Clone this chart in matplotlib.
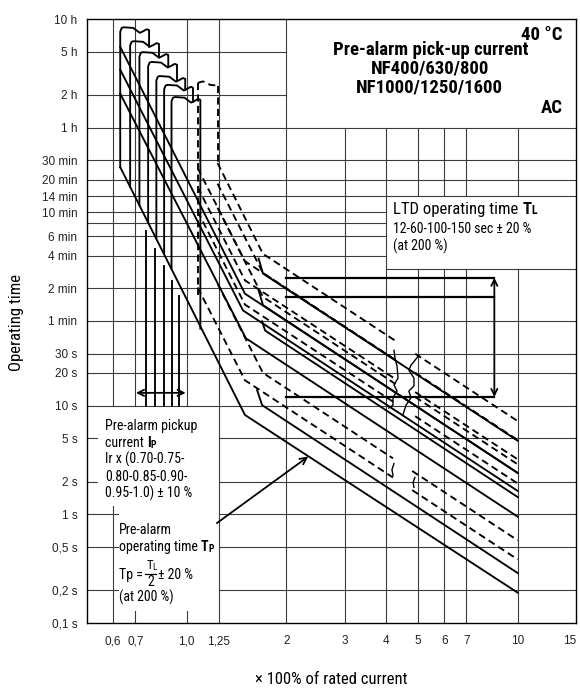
import numpy as np
import matplotlib
matplotlib.use("Agg")
import matplotlib.pyplot as plt
from matplotlib import font_manager as fm

# x: multiple of rated current, t: operating time in seconds
x_ticks = [0.6, 0.7, 1.0, 1.25, 2, 3, 4, 5, 6, 7, 10, 15]
x_tick_labels = ["0,6", "0,7", "1,0", "1,25", "2", "3", "4", "5", "6", "7", "10", "15"]
y_ticks = [36000, 18000, 7200, 3600, 1800, 1200, 840, 600, 360, 240, 120, 60,
           30, 20, 10, 5, 2, 1, 0.5, 0.2, 0.1]
y_tick_labels = ["10 h", "5 h", "2 h", "1 h", "30 min", "20 min", "14 min", "10 min",
                 "6 min", "4 min", "2 min", "1 min", "30 s", "20 s", "10 s", "5 s",
                 "2 s", "1 s", "0,5 s", "0,2 s", "0,1 s"]

# pre-alarm pick-up flags (Ip = Ir x 0.70 ... 1.0, +-10 %)
ip_set = [0.70, 0.75, 0.80, 0.85, 0.90, 0.95, 1.00]
flag_top = [29800, 22200, 17600, 14300, 10600, 8800, 6800]
flag_left_end = [1560, 1030, 700, 487, 345, 250, 183]
flag_right_end = [20000, 16000, 13000, 9800, 8000, 6200, 51]
ip_lines = [0.755, 0.805, 0.855, 0.90, 0.95]
ip_lines_top = [405, 277, 194, 141, 101]

# pre-alarm operating time Tp (solid)
tp_min_150 = ([0.63, 1.50, 10], [19950, 107, 2.4])
tp_min_100 = ([0.63, 1.48, 10], [12300, 75, 1.64])
tp_min_60 = ([0.63, 1.51, 10], [7400, 41.6, 0.95])
tp_min_12 = ([0.63, 1.50, 10], [1560, 8.2, 0.19])
tp_max_150 = ([1.65, 1.70, 10], [225, 164, 4.75])
tp_max_100 = ([1.65, 1.70, 10], [115, 84, 2.4])
tp_max_60 = ([1.69, 1.726, 10], [59.6, 49, 1.44])
tp_max_12 = ([1.632, 1.69, 10], [13.9, 10.1, 0.288])

# LTD operating time TL (dashed)
ltd_min_150 = ([1.08, 1.5, 10], [1530, 213, 4.8])
ltd_min_100 = ([1.08, 1.5, 10], [1020, 142, 3.2])
ltd_min_60 = ([1.08, 1.5, 10], [612, 85, 1.92])
ltd_min_12 = ([1.08, 1.5, 10], [122, 17.1, 0.384])
ltd_max_150 = ([1.24, 1.70, 10], [1700, 249, 7.2])
ltd_max_100 = ([1.24, 1.70, 10], [1100, 166, 4.8])
ltd_max_60 = ([1.24, 1.70, 10], [660, 100, 2.88])
ltd_max_12 = ([1.24, 1.70, 10], [132, 20, 0.576])
ltd_pick_lo = ([1.08, 1.08], [9300, 103])
ltd_pick_hi = ([1.24, 1.24], [8800, 1700])
ltd_pick_top = ([1.08, 1.12, 1.18, 1.24], [9300, 9600, 8900, 8800])
# interrupted parts of the LTD curves (x from, x to)
gap_upper = (4.30, 4.90)
gap_lower = (4.20, 4.80)

# LTD setting marks at 200 %
tl_marks = [150, 100, 12]

# break marks
brk1 = ([4.23, 4.26, 4.32, 4.35, 4.23, 4.32, 4.20, 4.20, 4.08],
        [32.3, 27.3, 23.1, 17.9, 15.5, 13.6, 11.8, 10.1, 9.5])
brk2 = ([5.03, 4.76, 4.69, 4.86, 4.86, 4.69, 4.76, 4.60, 4.50],
        [29.0, 23.5, 21.2, 17.9, 15.2, 13.6, 11.8, 10.1, 8.2])
brk3 = ([4.23, 4.17, 4.20], [2.93, 2.58, 2.27])
brk4 = ([4.89, 4.83, 4.86], [2.18, 1.96, 1.77])


def pick_font(*names):
    for n in names:
        try:
            fm.findfont(fm.FontProperties(family=n), fallback_to_default=False)
            return n
        except ValueError:
            continue
    return "DejaVu Sans"


COND = pick_font("Liberation Sans Narrow", "Roboto Condensed", "Noto Sans Condensed",
                 "Open Sans Condensed", "Liberation Sans")
SANS = pick_font("Liberation Sans", "Arial", "DejaVu Sans")

fig = plt.figure(figsize=(5.8, 6.91), dpi=100)
ax = fig.add_axes([87 / 580, 1 - 623 / 691, 489 / 580, 604 / 691])
ax.set_xscale("log")
ax.set_yscale("log")
XL, XR, TB, TT = 0.5, 15, 0.1, 36000
ax.set_xlim(XL, XR)
ax.set_ylim(TB, TT)

GC, GW = "#3c3c3c", 0.8
h_grid = {18000: [(XL, 2)], 7200: [(XL, 2)], 3600: [(XL, XR)], 1800: [(XL, XR)],
          1200: [(XL, XR)], 840: [(XL, XR)], 600: [(XL, 4)], 480: [(XL, 4)],
          360: [(XL, 4)], 240: [(XL, 4)], 182: [(4, XR)], 120: [(XL, 2)],
          60: [(XL, XR)], 30: [(XL, XR)], 20: [(XL, XR)], 10: [(XL, XR)],
          5: [(XL, 0.535), (1.25, XR)], 2: [(XL, 0.535), (1.25, XR)],
          1: [(XL, 0.62), (1.25, XR)], 0.5: [(XL, 0.62), (1.25, XR)],
          0.2: [(XL, 0.62), (1.25, XR)]}
for t, segs in h_grid.items():
    for a, b in segs:
        ax.plot([a, b], [t, t], color=GC, lw=GW, zorder=1)
v_grid = {0.6: [(10, TT), (TB, 1.2)], 0.7: [(10, TT), (TB, 0.13)],
          1.0: [(10, TT), (TB, 0.13)], 1.25: [(TB, TT)], 2: [(TB, TT)],
          3: [(TB, 3600)], 4: [(TB, 3600)], 5: [(TB, 182), (840, 3600)],
          6: [(TB, 182), (840, 3600)], 7: [(TB, 182), (840, 3600)],
          10: [(TB, 182), (840, 3600)]}
for x, segs in v_grid.items():
    for a, b in segs:
        ax.plot([x, x], [a, b], color=GC, lw=GW, zorder=1)

LW = 1.35
K = "black"
DASH = (3.8, 2.3)
# flags
wave = [(0.0, -0.035), (0.05, 0.0), (0.12, 0.006), (0.45, 0.0), (0.55, -0.02),
        (0.68, -0.045), (0.8, -0.03), (0.92, -0.012), (1.0, -0.02)]
for ip, top, lb, rb in zip(ip_set, flag_top, flag_left_end, flag_right_end):
    left, right = 0.9 * ip, 1.1 * ip
    xs = [left] + [left * (right / left) ** f for f, _ in wave] + [right]
    ts = [lb] + [top * 10 ** o for _, o in wave] + [rb]
    ax.plot(xs, ts, color=K, lw=LW, zorder=3, solid_joinstyle="round")
for x, top in zip(ip_lines, ip_lines_top):
    ax.plot([x, x], [top, 10], color=K, lw=LW, zorder=3)

for cx, ct in [tp_min_150, tp_min_100, tp_min_60, tp_min_12,
               tp_max_150, tp_max_100, tp_max_60, tp_max_12]:
    ax.plot(cx, ct, color=K, lw=LW, zorder=3)


def dashed_with_gap(cx, ct, gap):
    lx, lt = np.log10(cx), np.log10(ct)
    g0, g1 = np.log10(gap)
    t0, t1 = np.interp([g0, g1], lx, lt)
    head = [(x, t) for x, t in zip(lx, lt) if x < g0] + [(g0, t0)]
    tail = [(g1, t1)] + [(x, t) for x, t in zip(lx, lt) if x > g1]
    for part in (head, tail):
        px, pt = zip(*part)
        ax.plot(10 ** np.array(px), 10 ** np.array(pt), color=K, lw=LW, zorder=3, dashes=DASH)


for cx, ct in [ltd_min_150, ltd_min_100, ltd_min_60, ltd_max_150, ltd_max_100, ltd_max_60]:
    dashed_with_gap(cx, ct, gap_upper)
for cx, ct in [ltd_min_12, ltd_max_12]:
    dashed_with_gap(cx, ct, gap_lower)
for cx, ct in [ltd_pick_lo, ltd_pick_hi, ltd_pick_top]:
    ax.plot(cx, ct, color=K, lw=LW, zorder=3, dashes=DASH)
for bx, bt in [brk1, brk2, brk3, brk4]:
    ax.plot(bx, bt, color=K, lw=1.0, zorder=3)

# LTD marks and arrows
for t in tl_marks:
    ax.plot([2, 8.5], [t, t], color=K, lw=1.6, zorder=3)
ap = dict(arrowstyle="<->", lw=1.3, color=K, mutation_scale=11, shrinkA=0, shrinkB=0)
ax.annotate("", xy=(8.5, tl_marks[0]), xytext=(8.5, tl_marks[-1]), arrowprops=ap, zorder=4)
ax.annotate("", xy=(0.703, 13.1), xytext=(0.993, 13.1), arrowprops=ap, zorder=4)
ax.annotate("", xy=(2.33, 3.4), xytext=(1.234, 0.83),
            arrowprops=dict(arrowstyle="->", lw=1.3, color=K, mutation_scale=12,
                            shrinkA=0, shrinkB=0), zorder=4)

# axes, ticks
for s in ax.spines.values():
    s.set_linewidth(1.0)
ax.set_xticks(x_ticks)
ax.set_xticklabels(x_tick_labels)
ax.set_yticks(y_ticks)
ax.set_yticklabels(y_tick_labels)
ax.minorticks_off()
ax.tick_params(length=0, labelsize=8.5, colors="#222222")
ax.tick_params(axis="y", pad=7)
ax.tick_params(axis="x", pad=9)
for lab in ax.get_xticklabels() + ax.get_yticklabels():
    lab.set_fontfamily(SANS)
ax.get_xticklabels()[-1].set_horizontalalignment("right")

fig.text(0.571, 0.016, "\u00d7 100% of rated current", ha="center", va="center",
         fontsize=12, family=COND)
fig.text(0.028, 0.534, "Operating time", rotation=90, ha="center", va="center",
         fontsize=12, family=COND)


def T(x, y, s, **kw):
    kw.setdefault("family", COND)
    return ax.text(x, y, s, transform=ax.transAxes, zorder=5, **kw)


def chain(first, parts):
    t = first
    for s, kw in parts:
        kw = dict(kw)
        kw.setdefault("family", COND)
        t = ax.annotate(s, xy=(1, 0), xycoords=t, va="bottom", ha="left", zorder=5, **kw)
    return t


# title box
TS = 13.5
T(0.973, 0.974, "40 \u00b0C", ha="right", va="center", fontsize=TS, fontweight="bold")
T(0.703, 0.948, "Pre-alarm pick-up current", ha="center", va="center", fontsize=TS, fontweight="bold")
T(0.701, 0.918, "NF400/630/800", ha="center", va="center", fontsize=TS, fontweight="bold")
T(0.701, 0.886, "NF1000/1250/1600", ha="center", va="center", fontsize=TS, fontweight="bold")
T(0.973, 0.852, "AC", ha="right", va="center", fontsize=TS, fontweight="bold")

# LTD box
t1 = T(0.626, 0.672, "LTD operating time ", va="bottom", fontsize=12)
t2 = chain(t1, [("T", dict(fontsize=12, fontweight="bold"))])
chain(t2, [("L", dict(fontsize=8.5, fontweight="bold"))])
T(0.626, 0.641, "12-60-100-150 sec \u00b1 20 %", va="bottom", fontsize=10)
T(0.626, 0.611, "(at 200 %)", va="bottom", fontsize=10)

# pick-up box
PS = 10
T(0.037, 0.314, "Pre-alarm pickup", va="bottom", fontsize=PS)
c1 = T(0.037, 0.286, "current ", va="bottom", fontsize=PS)
c2 = chain(c1, [("I", dict(fontsize=PS, fontweight="bold"))])
chain(c2, [("P", dict(fontsize=7, fontweight="bold"))])
T(0.037, 0.258, "Ir x (0.70-0.75-", va="bottom", fontsize=PS)
T(0.037, 0.230, "0.80-0.85-0.90-", va="bottom", fontsize=PS)
T(0.037, 0.202, "0.95-1.0) \u00b1 10 %", va="bottom", fontsize=PS)

# Tp box
T(0.065, 0.143, "Pre-alarm", va="bottom", fontsize=PS)
o1 = T(0.065, 0.115, "operating time ", va="bottom", fontsize=PS)
o2 = chain(o1, [("T", dict(fontsize=PS, fontweight="bold"))])
chain(o2, [("P", dict(fontsize=7, fontweight="bold"))])
T(0.065, 0.068, "Tp =", va="bottom", fontsize=PS)
n1 = T(0.121, 0.084, "T", va="bottom", fontsize=9)
chain(n1, [("L", dict(fontsize=6.5))])
ax.plot([0.119, 0.141], [0.0815, 0.0815], transform=ax.transAxes, color=K, lw=0.9, zorder=5)
T(0.130, 0.057, "2", ha="center", va="bottom", fontsize=PS)
T(0.146, 0.068, "\u00b1 20 %", va="bottom", fontsize=PS)
T(0.065, 0.030, "(at 200 %)", va="bottom", fontsize=PS)

fig.savefig("out.png", dpi=100)
